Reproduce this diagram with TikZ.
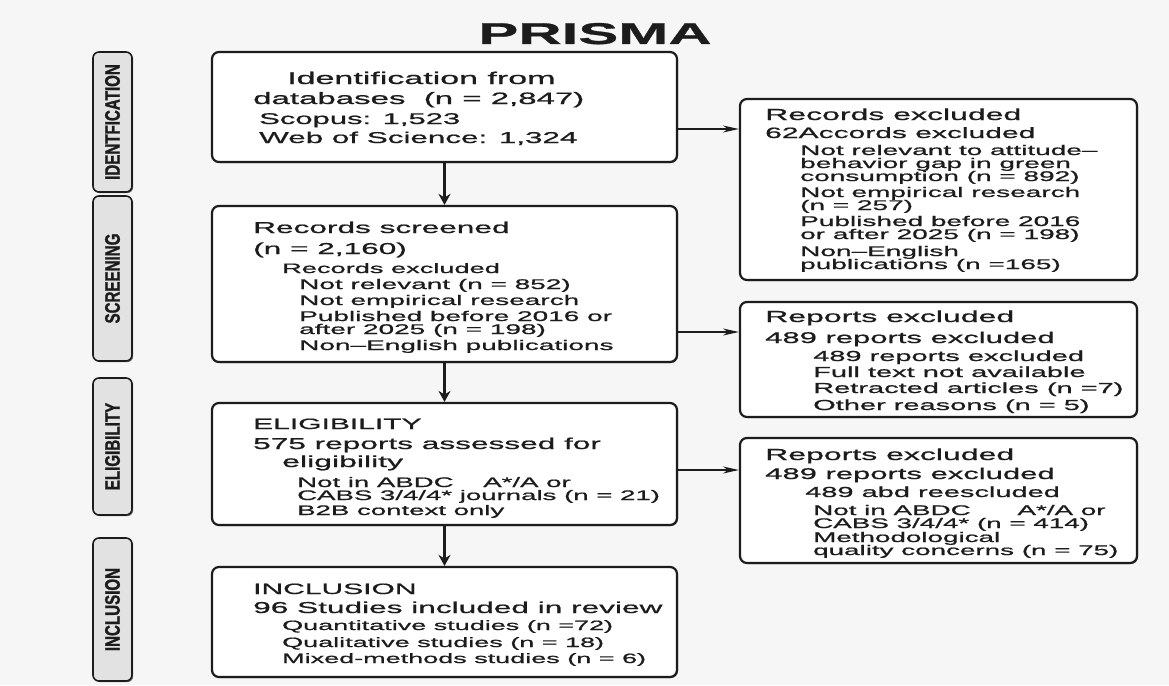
\documentclass[tikz,border=0pt]{standalone}
\usepackage{fontspec}
\setmainfont{Liberation Sans}
\newfontfamily\bodyfont{Liberation Sans}[FakeStretch=2.0, FakeBold=0.9]
\newfontfamily\labfont{Liberation Sans}[FakeStretch=0.72, FakeBold=1.2]
\usetikzlibrary{arrows.meta,shadows}
\definecolor{ink}{HTML}{1C1C1C}
\definecolor{bg}{HTML}{F6F6F6}
\definecolor{labfill}{HTML}{E2E2E2}
\newcommand\fsz[1]{\fontsize{#1}{#1}\selectfont}
\newcommand\tline[4]{\node[tx,font=\bodyfont\fsz{#2}] (#3) at (#1) {#4};}
\begin{document}
\begin{tikzpicture}[x=1pt,y=-1pt,
  box/.style={draw=ink, line width=2.2pt, rounded corners=7pt, fill=white, inner sep=0pt,
    minimum width=465pt, drop shadow={shadow xshift=1pt, shadow yshift=-1pt, fill=ink, opacity=.55}},
  rbox/.style={box, minimum width=397pt},
  labbox/.style={draw=ink, line width=1.6pt, rounded corners=6pt, fill=labfill, inner sep=0pt,
    minimum width=39pt, drop shadow={shadow xshift=1.2pt, shadow yshift=-1.2pt, fill=ink, opacity=.6}},
  labtext/.style={rotate=90, inner sep=0pt, text=ink, font=\labfont\bfseries\fsz{21}},
  tx/.style={anchor=base west, inner sep=0pt, text=ink},
  varr/.style={draw=ink, line width=2.4pt, -{Stealth[length=11pt,width=12pt]}},
  harr/.style={draw=ink, line width=1.3pt, -{Stealth[length=16pt,width=7pt]}}]
\useasboundingbox (0,0) rectangle (1169,685);
\fill[bg] (0,0) rectangle (1169,685);

% title
\node[anchor=base, inner sep=0pt, text=ink, font=\bodyfont\bfseries\fsz{30}] (title) at (595,44) {PRISMA};

% phase labels
\node[labbox, minimum height=140pt] (L1) at (112.5,122) {};
\node[labbox, minimum height=165pt] (L2) at (112.5,278.5) {};
\node[labbox, minimum height=137pt] (L3) at (112.5,446.5) {};
\node[labbox, minimum height=143pt] (L4) at (112.5,609.5) {};
\node[labtext] (L1t) at (L1.center) {IDENTFICATION};
\node[labtext] (L2t) at (L2.center) {SCREENING};
\node[labtext] (L3t) at (L3.center) {ELIGIBILITY};
\node[labtext] (L4t) at (L4.center) {INCLUSION};

% main boxes
\node[box, minimum height=110pt] (ident) at (444.5,107) {};
\node[box, minimum height=156pt] (screen) at (444.5,284) {};
\node[box, minimum height=122pt] (elig) at (444.5,464) {};
\node[box, minimum height=110pt] (incl) at (444.5,622) {};
\node[rbox, minimum height=181pt] (rx1) at (938.5,189.5) {};
\node[rbox, minimum height=115pt] (rx2) at (938.5,359.5) {};
\node[rbox, minimum height=125pt] (rx3) at (938.5,500.5) {};

% connectors
\draw[varr] (ident.south) -- (screen.north);
\draw[varr] (screen.south) -- (elig.north);
\draw[varr] (elig.south) -- (incl.north);
\coordinate (h1) at (700,129);
\coordinate (h2) at (700,332);
\coordinate (h3) at (700,470);
\draw[harr] (ident.east |- h1) -- (rx1.west |- h1);
\draw[harr] (screen.east |- h2) -- (rx2.west |- h2);
\draw[harr] (elig.east |- h3) -- (rx3.west |- h3);

% identification text
\tline{287,84}{17}{i1}{Identification from}
\tline{253,104}{16.5}{i2}{databases\ \ (n = 2,847)}
\tline{259,124}{15.5}{i3}{Scopus: 1,523}
\tline{259,143}{15.7}{i4}{Web of Science: 1,324}

% screening text
\tline{253,233}{15.8}{s1}{Records screened}
\tline{253,254}{15.8}{s2}{(n = 2,160)}
\tline{282,273}{13.6}{s3}{Records excluded}
\tline{299,289}{14}{s4}{Not relevant (n = 852)}
\tline{299,305}{14}{s5}{Not empirical research}
\tline{299,321}{14}{s6}{Published before 2016 or}
\tline{299,334}{14}{s7}{after 2025 (n = 198)}
\tline{299,350}{14}{s8}{Non–English publications}

% eligibility text
\tline{253,429}{15}{e1}{ELIGIBILITY}
\tline{253,449}{15.8}{e2}{575 reports assessed for}
\tline{282,467}{16}{e3}{eligibility}
\tline{297,487}{13.8}{e4}{Not in ABDC\hspace{22pt} A*/A or}
\tline{297,500}{13.8}{e5}{CABS 3/4/4* journals (n = 21)}
\tline{297,515}{13.8}{e6}{B2B context only}

% inclusion text
\tline{253,594}{15}{n1}{INCLUSION}
\tline{253,613}{15.8}{n2}{96 Studies included in review}
\tline{282,630}{13.5}{n3}{Quantitative studies (n =72)}
\tline{282,647}{13.5}{n4}{Qualitative studies (n = 18)}
\tline{282,663}{13.5}{n5}{Mixed-methods studies (n = 6)}

% records excluded (right 1)
\tline{765,120}{16}{a1}{Records excluded}
\tline{765,138}{15}{a2}{62Accords excluded}
\tline{800,155}{14}{a3}{Not relevant to attitude–}
\tline{800,168}{14}{a4}{behavior gap in green}
\tline{800,181}{14}{a5}{consumption (n = 892)}
\tline{800,197}{14}{a6}{Not empirical research}
\tline{800,210}{14}{a7}{(n = 257)}
\tline{800,226}{14}{a8}{Published before 2016}
\tline{800,239}{14}{a9}{or after 2025 (n = 198)}
\tline{800,256}{14}{a10}{Non–English}
\tline{800,269}{14}{a11}{publications (n =165)}

% reports excluded (right 2)
\tline{765,322}{16}{b1}{Reports excluded}
\tline{765,343}{15.5}{b2}{489 reports excluded}
\tline{813,361}{14.5}{b3}{489 reports excluded}
\tline{813,377}{14.5}{b4}{Full text not available}
\tline{813,393}{14.5}{b5}{Retracted articles (n =7)}
\tline{813,410}{14.5}{b6}{Other reasons (n = 5)}

% reports excluded (right 3)
\tline{765,460}{16}{c1}{Reports excluded}
\tline{765,479}{15.5}{c2}{489 reports excluded}
\tline{805,497}{14.5}{c3}{489 abd reescluded}
\tline{813,515}{13.9}{c4}{Not in ABDC\hspace{39pt} A*/A or}
\tline{813,528}{13.9}{c5}{CABS 3/4/4* (n = 414)}
\tline{813,542}{13.9}{c6}{Methodological}
\tline{813,555}{13.9}{c7}{quality concerns (n = 75)}
\end{tikzpicture}
\end{document}
